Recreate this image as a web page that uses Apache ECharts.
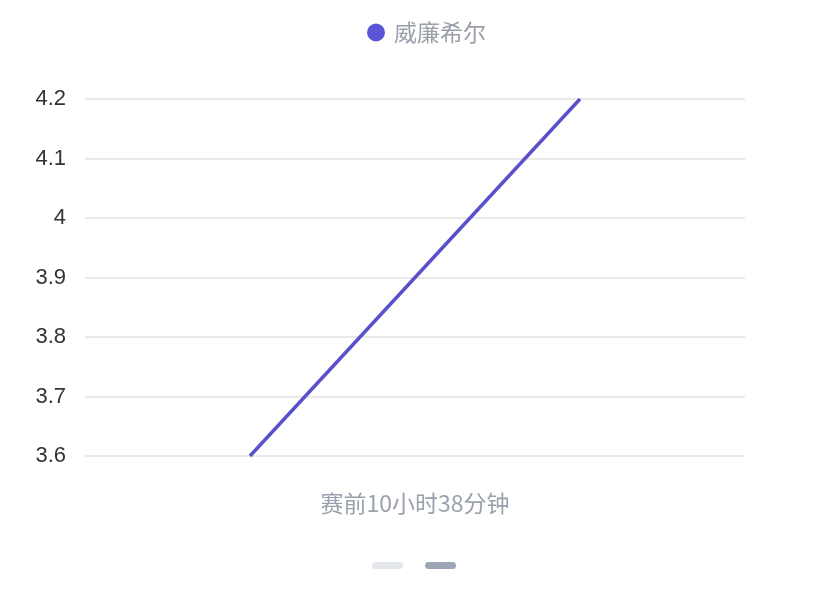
<!DOCTYPE html>
<html>
<head>
  <meta charset="utf-8" />
  <title>odds</title>
  <style type="text/css">
    html, body { margin: 0; padding: 0; background: #fff; }
    #main { width: 828px; height: 589px; }
  </style>
</head>
<body>
  <div id="main"></div>
  <script src="https://cdn.jsdelivr.net/npm/echarts@6/dist/echarts.min.js"></script>
  <script>
    var categories = ['1', '2'];
    var seriesName = '威廉希尔';
    var odds = [3.6, 4.2];
    var axisTitle = '赛前10小时38分钟';

    var myChart = echarts.init(document.getElementById('main'));
    var font = '"PingFang SC", "Noto Sans CJK SC", sans-serif';

    var option = {
      animation: false,
      legend: {
        top: 16,
        left: 362,
        icon: 'circle',
        itemWidth: 18,
        itemHeight: 18,
        itemGap: 8,
        textStyle: { color: '#9a9ea8', fontSize: 23, fontFamily: font, padding: [0, 0, 0, 4] },
        data: [seriesName]
      },
      grid: { left: 85, right: 83, top: 99, bottom: 133, containLabel: false },
      xAxis: {
        type: 'category',
        data: categories,
        boundaryGap: true,
        name: axisTitle,
        nameLocation: 'middle',
        nameGap: 36,
        nameTextStyle: { color: '#9aa0ad', fontSize: 23, fontFamily: font },
        axisLine: { show: false },
        axisTick: { show: false },
        axisLabel: { show: false }
      },
      yAxis: {
        type: 'value',
        min: 3.6,
        max: 4.2,
        interval: 0.1,
        axisLine: { show: false },
        axisTick: { show: false },
        axisLabel: { color: '#333', fontSize: 22, margin: 19, fontFamily: 'Helvetica, Arial, sans-serif' },
        splitLine: { lineStyle: { color: '#e2e2e2', width: 1.5 } }
      },
      series: [{
        name: seriesName,
        type: 'line',
        data: odds,
        symbol: 'none',
        itemStyle: { color: '#5b55d6' },
        lineStyle: { color: '#5b50cc', width: 3.5 }
      }],
      graphic: [
        { type: 'rect', left: 372, top: 562, shape: { width: 31, height: 7, r: 3.5 }, style: { fill: '#e3e6eb' } },
        { type: 'rect', left: 425, top: 562, shape: { width: 31, height: 7, r: 3.5 }, style: { fill: '#9ca5b6' } }
      ]
    };
    myChart.setOption(option);
  </script>
</body>
</html>
